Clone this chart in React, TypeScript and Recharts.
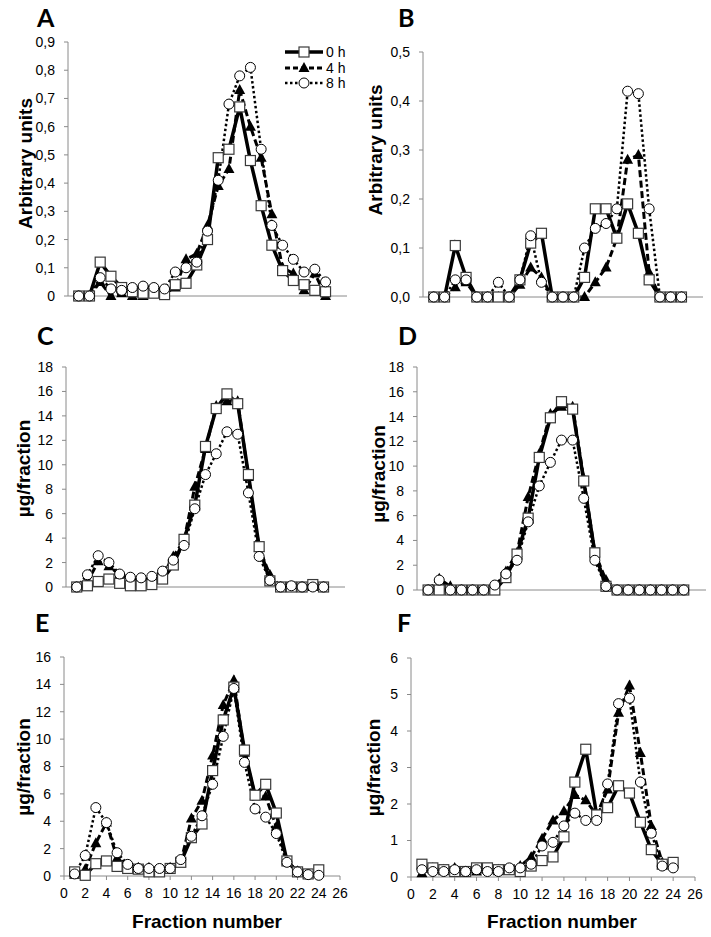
import React from 'react';
import { LineChart, Line, XAxis, YAxis } from 'recharts';

// ---------- data ----------
const fractions = [1, 2, 3, 4, 5, 6, 7, 8, 9, 10, 11, 12, 13, 14, 15, 16, 17, 18, 19, 20, 21, 22, 23, 24];
const xTicks = [0, 2, 4, 6, 8, 10, 12, 14, 16, 18, 20, 22, 24, 26];
const seriesNames = ['0 h', '4 h', '8 h'];

const A0 = [0, 0, 0.12, 0.07, 0.03, 0.015, 0.01, 0.01, 0.005, 0.04, 0.045, 0.11, 0.2, 0.49, 0.52, 0.67, 0.48, 0.32, 0.18, 0.09, 0.055, 0.04, 0.02, 0.015];
const A4 = [0, 0, 0.05, 0, 0.01, 0, 0, 0.01, 0.01, 0.03, 0.13, 0.15, 0.25, 0.39, 0.45, 0.73, 0.6, 0.49, 0.29, 0.1, 0.08, 0.02, 0.08, 0];
const A8 = [0, 0, 0.065, 0.025, 0.02, 0.03, 0.035, 0.03, 0.025, 0.085, 0.1, 0.12, 0.23, 0.41, 0.68, 0.78, 0.81, 0.52, 0.25, 0.18, 0.13, 0.085, 0.095, 0.05];

const B0 = [0, 0, 0.105, 0.04, 0, 0, 0, 0, 0.035, 0.11, 0.13, 0, 0, 0, 0.04, 0.18, 0.18, 0.12, 0.19, 0.13, 0.035, 0, 0, 0];
const B4 = [0, 0, 0.02, 0.03, 0, 0, 0, 0, 0.025, 0.06, 0.04, 0, 0, 0, 0, 0.03, 0.06, 0.12, 0.28, 0.29, 0.05, 0, 0, 0];
const B8 = [0, 0, 0.035, 0.035, 0, 0, 0.03, 0, 0.035, 0.125, 0.03, 0, 0, 0, 0.1, 0.14, 0.15, 0.18, 0.42, 0.415, 0.18, 0, 0, 0];

const C0 = [0, 0.1, 0.45, 0.65, 0.3, 0.1, 0.1, 0.2, 0.65, 1.8, 3.9, 6.7, 11.5, 14.6, 15.8, 15.0, 9.2, 3.3, 0.5, 0, 0, 0, 0.2, 0];
const C4 = [0, 0.4, 2.1, 1.7, 1.0, 0.7, 0.6, 0.7, 0.9, 2.5, 3.8, 8.2, 11.3, 14.8, 15.2, 15.2, 9.0, 3.2, 1.0, 0, 0.05, 0, 0, 0];
const C8 = [0, 1.0, 2.56, 2.0, 1.06, 0.8, 0.75, 0.87, 1.3, 2.2, 3.4, 6.4, 9.2, 10.9, 12.7, 12.5, 7.7, 2.5, 0.55, 0, 0.1, 0, 0, 0];

const D0 = [0, 0, 0, 0, 0, 0, 0, 1.0, 2.9, 5.8, 10.7, 13.9, 15.2, 14.6, 8.8, 3.0, 0.3, 0, 0, 0, 0, 0, 0, 0];
const D4 = [0, 0.9, 0.3, 0, 0, 0, 0, 1.5, 3.0, 7.5, 11.0, 14.2, 14.8, 14.8, 9.0, 3.0, 0.8, 0, 0, 0, 0, 0, 0, 0];
const D8 = [0, 0.8, 0, 0, 0, 0, 0.4, 1.3, 2.4, 5.5, 8.4, 10.3, 12.1, 12.1, 7.4, 2.4, 0.3, 0, 0, 0, 0, 0, 0, 0];

const E0 = [0.3, 0.05, 0.9, 1.1, 0.7, 0.55, 0.5, 0.3, 0.3, 0.55, 1.0, 2.8, 3.8, 7.7, 11.4, 13.8, 9.2, 5.9, 6.7, 4.6, 1.1, 0.3, 0.15, 0.45];
const E4 = [0.1, 0.5, 2.4, 3.9, 1.3, 0.8, 0.6, 0.6, 0.5, 0.6, 1.0, 4.2, 5.5, 8.8, 12.5, 14.3, 9.0, 5.9, 5.8, 3.6, 1.1, 0.35, 0.1, 0.2];
const E8 = [0.15, 1.5, 5.0, 3.9, 1.7, 0.85, 0.55, 0.55, 0.55, 0.55, 1.2, 2.9, 4.4, 6.7, 10.2, 13.7, 8.3, 4.9, 4.3, 3.1, 1.0, 0.3, 0.1, 0.05];

const F0 = [0.35, 0.25, 0.2, 0.15, 0.15, 0.25, 0.25, 0.2, 0.2, 0.15, 0.3, 0.45, 0.55, 1.1, 2.6, 3.5, 1.7, 1.9, 2.5, 2.3, 1.5, 0.75, 0.35, 0.4];
const F4 = [0.1, 0.25, 0.2, 0.25, 0.15, 0.15, 0.2, 0.2, 0.2, 0.3, 0.55, 1.05, 1.55, 1.8, 2.25, 2.1, 1.7, 2.4, 4.5, 5.25, 3.4, 1.4, 0.4, 0.35];
const F8 = [0.2, 0.15, 0.15, 0.2, 0.15, 0.2, 0.15, 0.15, 0.25, 0.25, 0.35, 0.85, 0.95, 1.4, 1.75, 1.55, 1.55, 2.55, 4.75, 4.9, 2.6, 1.2, 0.3, 0.25];

const yTicksA = [0, 0.1, 0.2, 0.3, 0.4, 0.5, 0.6, 0.7, 0.8, 0.9];
const yLabelsA = ['0', '0,1', '0,2', '0,3', '0,4', '0,5', '0,6', '0,7', '0,8', '0,9'];
const yTicksB = [0, 0.1, 0.2, 0.3, 0.4, 0.5];
const yLabelsB = ['0,0', '0,1', '0,2', '0,3', '0,4', '0,5'];
const yTicksCD = [0, 2, 4, 6, 8, 10, 12, 14, 16, 18];
const yTicksE = [0, 2, 4, 6, 8, 10, 12, 14, 16];
const yTicksF = [0, 1, 2, 3, 4, 5, 6];

const panelLetters = ['A', 'B', 'C', 'D', 'E', 'F'];
const yTitles = ['Arbitrary units', 'Arbitrary units', 'µg/fraction', 'µg/fraction', 'µg/fraction', 'µg/fraction'];
const xTitle = 'Fraction number';

// ---------- styling ----------
const AXIS = '#8a8a8a';
const TICK_FONT = { fontSize: 14, fill: '#000', fontFamily: '"Liberation Sans", Arial, sans-serif' };
const TITLE_FONT = '"Liberation Sans", Arial, sans-serif';

const SquareDot = (p: any) => {
  if (p.cx == null || p.cy == null) return <g key={`s-${p.index}`} />;
  return <rect key={`s-${p.index}`} x={p.cx - 5} y={p.cy - 5} width={10} height={10} fill="#fff" stroke="#3a3a3a" strokeWidth={1.2} />;
};
const TriDot = (p: any) => {
  if (p.cx == null || p.cy == null) return <g key={`t-${p.index}`} />;
  const { cx, cy } = p;
  return <polygon key={`t-${p.index}`} points={`${cx},${cy - 6} ${cx - 5.5},${cy + 4} ${cx + 5.5},${cy + 4}`} fill="#000" />;
};
const CircDot = (p: any) => {
  if (p.cx == null || p.cy == null) return <g key={`c-${p.index}`} />;
  return <circle key={`c-${p.index}`} cx={p.cx} cy={p.cy} r={5} fill="#fff" stroke="#000" strokeWidth={1} />;
};

const LegendBox = ({ x, y }: { x: number; y: number }) => (
  <g transform={`translate(${x},${y})`}>
    <g>
      <line x1={2} y1={10} x2={40} y2={10} stroke="#000" strokeWidth={3.5} />
      <rect x={16} y={5} width={10} height={10} fill="#fff" stroke="#3a3a3a" strokeWidth={1.2} />
      <text x={43} y={15} style={TICK_FONT}>{seriesNames[0]}</text>
    </g>
    <g>
      <line x1={2} y1={26} x2={40} y2={26} stroke="#000" strokeWidth={3} strokeDasharray="5 3" />
      <polygon points={`21,20 15.5,30 26.5,30`} fill="#000" />
      <text x={43} y={31} style={TICK_FONT}>{seriesNames[1]}</text>
    </g>
    <g>
      <line x1={2} y1={41} x2={40} y2={41} stroke="#000" strokeWidth={2.5} strokeDasharray="2.5 2.5" />
      <circle cx={21} cy={41} r={5} fill="#fff" stroke="#000" strokeWidth={1} />
      <text x={43} y={46} style={TICK_FONT}>{seriesNames[2]}</text>
    </g>
  </g>
);

type PanelProps = {
  left: number; top: number; width: number; height: number;
  yAxisW: number; mTop: number; mRight: number; mBottom: number; xAxisH: number;
  showX: boolean; s0: number[]; s4: number[]; s8: number[];
  yTicks: number[]; yLabels?: string[];
};

function Panel(p: PanelProps) {
  const rows = fractions.map((f, i) => ({ f, h0: p.s0[i], h4: p.s4[i], h8: p.s8[i] }));
  const yMax = p.yTicks[p.yTicks.length - 1];
  const fmt = (v: number) => {
    if (p.yLabels) {
      const idx = p.yTicks.findIndex((t) => Math.abs(t - v) < 1e-9);
      return idx >= 0 ? p.yLabels[idx] : String(v);
    }
    return String(v);
  };
  return (
    <div style={{ position: 'absolute', left: p.left, top: p.top, width: p.width, height: p.height }}>
      <LineChart
        width={p.width}
        height={p.height}
        data={rows}
        margin={{ top: p.mTop, right: p.mRight, bottom: p.mBottom, left: 0 }}
      >
        <XAxis
          dataKey="f"
          type="number"
          domain={[0, 26]}
          ticks={xTicks}
          interval={0}
          height={p.xAxisH}
          tick={p.showX ? TICK_FONT : false}
          tickSize={4}
          tickMargin={8}
          axisLine={{ stroke: AXIS }}
          tickLine={{ stroke: AXIS }}
          allowDecimals={false}
        />
        <YAxis
          type="number"
          domain={[0, yMax]}
          ticks={p.yTicks}
          interval={0}
          width={p.yAxisW}
          tick={TICK_FONT}
          tickFormatter={fmt}
          tickSize={4}
          tickMargin={9}
          axisLine={{ stroke: AXIS }}
          tickLine={{ stroke: AXIS }}
        />
        <Line
          dataKey="h4"
          name={seriesNames[1]}
          type="linear"
          stroke="#000"
          strokeWidth={3}
          strokeDasharray="7 3.5"
          dot={TriDot}
          activeDot={false}
          isAnimationActive={false}
        />
        <Line
          dataKey="h0"
          name={seriesNames[0]}
          type="linear"
          stroke="#000"
          strokeWidth={3.5}
          dot={SquareDot}
          activeDot={false}
          isAnimationActive={false}
        />
        <Line
          dataKey="h8"
          name={seriesNames[2]}
          type="linear"
          stroke="#000"
          strokeWidth={2.5}
          strokeDasharray="2.5 2.5"
          dot={CircDot}
          activeDot={false}
          isAnimationActive={false}
        />
      </LineChart>
    </div>
  );
}

const letterPos = [
  [37, 27], [398, 27], [37, 345], [398, 345], [35, 632], [397, 632],
];
const yTitlePos = [
  [25.5, 163.5], [375, 150], [23.5, 468.5], [378.5, 474], [23.5, 767], [373, 767.5],
];
const xTitlePos = [[207, 928], [562, 928]];

export default function App() {
  return (
    <div style={{ position: 'absolute', left: 0, top: 0, width: 711, height: 937, background: '#fff', overflow: 'hidden' }}>
      <Panel left={0} top={0} width={355} height={310} yAxisW={68} mTop={42} mRight={8} mBottom={0} xAxisH={14}
        showX={false} s0={A0} s4={A4} s8={A8} yTicks={yTicksA} yLabels={yLabelsA} />
      <Panel left={355} top={0} width={356} height={310} yAxisW={68} mTop={52} mRight={8} mBottom={0} xAxisH={13}
        showX={false} s0={B0} s4={B4} s8={B8} yTicks={yTicksB} yLabels={yLabelsB} />
      <Panel left={0} top={310} width={355} height={300} yAxisW={66} mTop={57} mRight={10} mBottom={0} xAxisH={23}
        showX={false} s0={C0} s4={C4} s8={C8} yTicks={yTicksCD} />
      <Panel left={355} top={310} width={356} height={300} yAxisW={62} mTop={57} mRight={5} mBottom={0} xAxisH={20}
        showX={false} s0={D0} s4={D4} s8={D8} yTicks={yTicksCD} />
      <Panel left={0} top={610} width={355} height={327} yAxisW={64} mTop={47} mRight={15} mBottom={31} xAxisH={30}
        showX s0={E0} s4={E4} s8={E8} yTicks={yTicksE} />
      <Panel left={355} top={610} width={356} height={327} yAxisW={56} mTop={48} mRight={16} mBottom={30} xAxisH={30}
        showX s0={F0} s4={F4} s8={F8} yTicks={yTicksF} />
      <svg width={711} height={937} style={{ position: 'absolute', left: 0, top: 0, pointerEvents: 'none' }}>
        <LegendBox x={283} y={42} />
        {panelLetters.map((l, i) => (
          <text key={l} x={letterPos[i][0]} y={letterPos[i][1]} fontFamily="Lato, 'Open Sans', sans-serif" fontWeight={700} fontSize={25} fill="#000">{l}</text>
        ))}
        {yTitles.map((t, i) => (
          <text key={`yt${i}`} x={0} y={0} transform={`translate(${yTitlePos[i][0]},${yTitlePos[i][1]}) rotate(-90)`}
            textAnchor="middle" dominantBaseline="central" fontFamily={TITLE_FONT} fontWeight={700} fontSize={19} fill="#000">{t}</text>
        ))}
        {xTitlePos.map((p, i) => (
          <text key={`xt${i}`} x={p[0]} y={p[1]} textAnchor="middle" fontFamily={TITLE_FONT} fontWeight={700} fontSize={19} fill="#000">{xTitle}</text>
        ))}
      </svg>
    </div>
  );
}
